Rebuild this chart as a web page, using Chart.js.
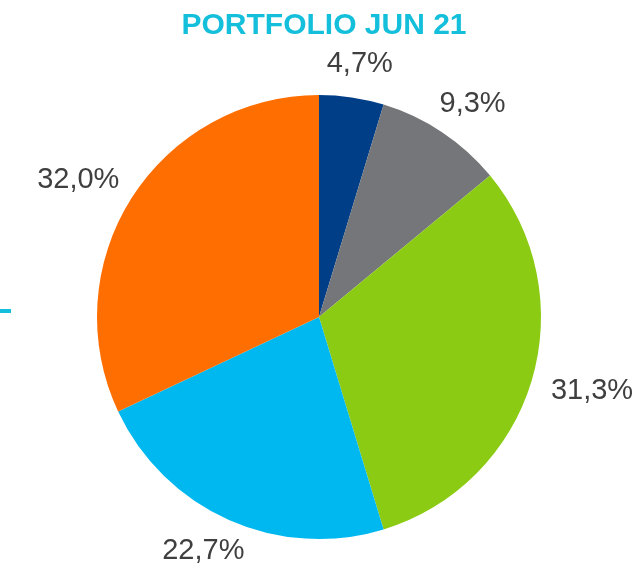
<!DOCTYPE html>
<html>
<head>
<meta charset="utf-8">
<script src="https://cdn.jsdelivr.net/npm/chart.js@4"></script>
<style>
  html, body { margin: 0; padding: 0; background: #fff; }
  #wrap { width: 633px; height: 565px; position: relative; }
</style>
</head>
<body>
<div id="wrap"><canvas id="chart"></canvas></div>
<script>
// data
const chartTitle = 'PORTFOLIO JUN 21';
const categories = ['A', 'B', 'C', 'D', 'E'];
const shares = [4.7, 9.3, 31.3, 22.7, 32.0];
const sliceColors = ['#003f87', '#75767a', '#8ccb14', '#00b8f0', '#ff6e00'];

const fmt = (v) => v.toFixed(1).replace('.', ',') + '%';

/* title + small accent line */
const titlePlugin = {
  id: 'titlePlugin',
  afterDraw(chart) {
    const ctx = chart.ctx;
    ctx.save();
    ctx.fillStyle = '#14bfdb';
    ctx.font = 'bold 30px "Liberation Sans", Arial, sans-serif';
    ctx.textAlign = 'center';
    ctx.textBaseline = 'middle';
    ctx.fillText(chartTitle, 324, 26);
    ctx.fillRect(0, 309, 11, 4);
    ctx.restore();
  }
};

/* outside percent labels */
const outLabels = {
  id: 'outLabels',
  afterDatasetsDraw(chart) {
    const ctx = chart.ctx;
    const meta = chart.getDatasetMeta(0);
    ctx.save();
    ctx.font = '29px "Liberation Sans", Arial, sans-serif';
    ctx.fillStyle = '#3f3f3f';
    ctx.textAlign = 'center';
    ctx.textBaseline = 'middle';
    meta.data.forEach((arc, i) => {
      const mid = (arc.startAngle + arc.endAngle) / 2;
      const s = Math.cos(mid), c = Math.sin(mid); // x, y dirs
      const txt = fmt(shares[i]);
      const hw = ctx.measureText(txt).width / 2;
      const hh = 12;
      const rr = arc.outerRadius + 22;
      const x = arc.x + rr * s + hw * s;
      const y = arc.y + rr * c + hh * c;
      ctx.fillText(txt, x, y);
    });
    ctx.restore();
  }
};

new Chart(document.getElementById('chart'), {
  type: 'pie',
  data: {
    labels: categories,
    datasets: [{
      data: shares,
      backgroundColor: sliceColors,
      borderWidth: 0
    }]
  },
  options: {
    responsive: true,
    maintainAspectRatio: false,
    animation: false,
    layout: { padding: { top: 95, bottom: 26, left: 97, right: 92 } },
    plugins: {
      legend: { display: false },
      tooltip: { enabled: false }
    }
  },
  plugins: [titlePlugin, outLabels]
});
</script>
</body>
</html>
